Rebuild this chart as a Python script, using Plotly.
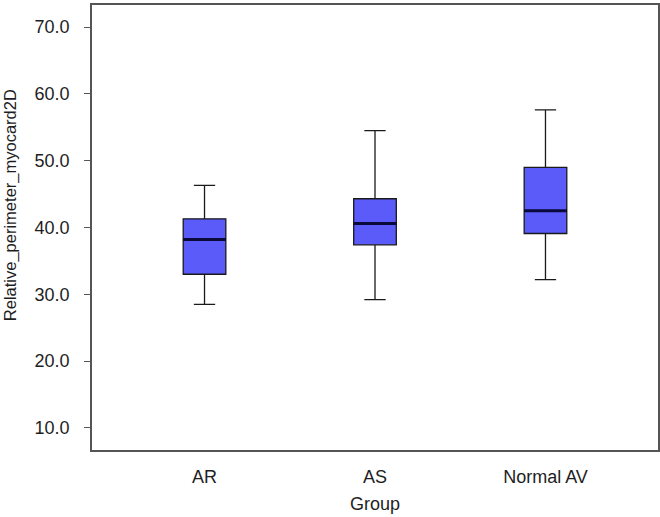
import plotly.graph_objects as go

groups = ["AR", "AS", "Normal AV"]
lower_whisker = [28.5, 29.2, 32.2]
q1 = [33.0, 37.4, 39.1]
median = [38.2, 40.6, 42.5]
q3 = [41.3, 44.3, 49.0]
upper_whisker = [46.3, 54.5, 57.6]
y_ticks = [10, 20, 30, 40, 50, 60, 70]

xpos = list(range(len(groups)))
box_w = 0.25

fig = go.Figure()
fig.add_trace(go.Box(
    x=xpos, lowerfence=lower_whisker, q1=q1, median=median, q3=q3,
    upperfence=upper_whisker, width=box_w, whiskerwidth=0.5,
    fillcolor="#5b5bfa", line=dict(color="#1a1a1a", width=1.3),
    boxpoints=False, showlegend=False, hoverinfo="skip"))

for i, m in zip(xpos, median):
    fig.add_shape(type="line", x0=i - box_w / 2, x1=i + box_w / 2, y0=m, y1=m,
                  line=dict(color="#0a0a3a", width=3))

fam = "Liberation Sans, Arial, sans-serif"
tfont = dict(family=fam, size=18, color="#1e1e1e")
fig.add_annotation(text="Relative_perimeter_myocard2D", textangle=-90,
                   xref="paper", yref="paper", x=-0.145, y=0.55,
                   xanchor="center", yanchor="middle", showarrow=False,
                   font=dict(family=fam, size=16.5, color="#1e1e1e"))
fig.update_layout(
    width=660, height=517, margin=dict(l=92, r=2, t=5, b=67),
    paper_bgcolor="white", plot_bgcolor="white", font=tfont,
    xaxis=dict(range=[-0.66, 2.66], tickvals=xpos, ticktext=groups,
               showgrid=False, zeroline=False, showline=True, mirror=True,
               linecolor="#555", linewidth=1.5, ticks="", automargin=False,
               tickfont=tfont, ticklabelstandoff=10,
               title=dict(text="Group", standoff=11, font=tfont)),
    yaxis=dict(range=[6.7, 73.3], tickvals=y_ticks,
               ticktext=[f"{v:.1f}" for v in y_ticks], automargin=False,
               showgrid=False, zeroline=False, showline=True, mirror=True,
               linecolor="#555", linewidth=1.5, ticks="outside", ticklen=6,
               tickcolor="#555", ticklabelstandoff=11, tickfont=tfont),
)
fig.write_html("out.html", config={"displayModeBar": False},
               post_script="document.body.style.margin='0';")
